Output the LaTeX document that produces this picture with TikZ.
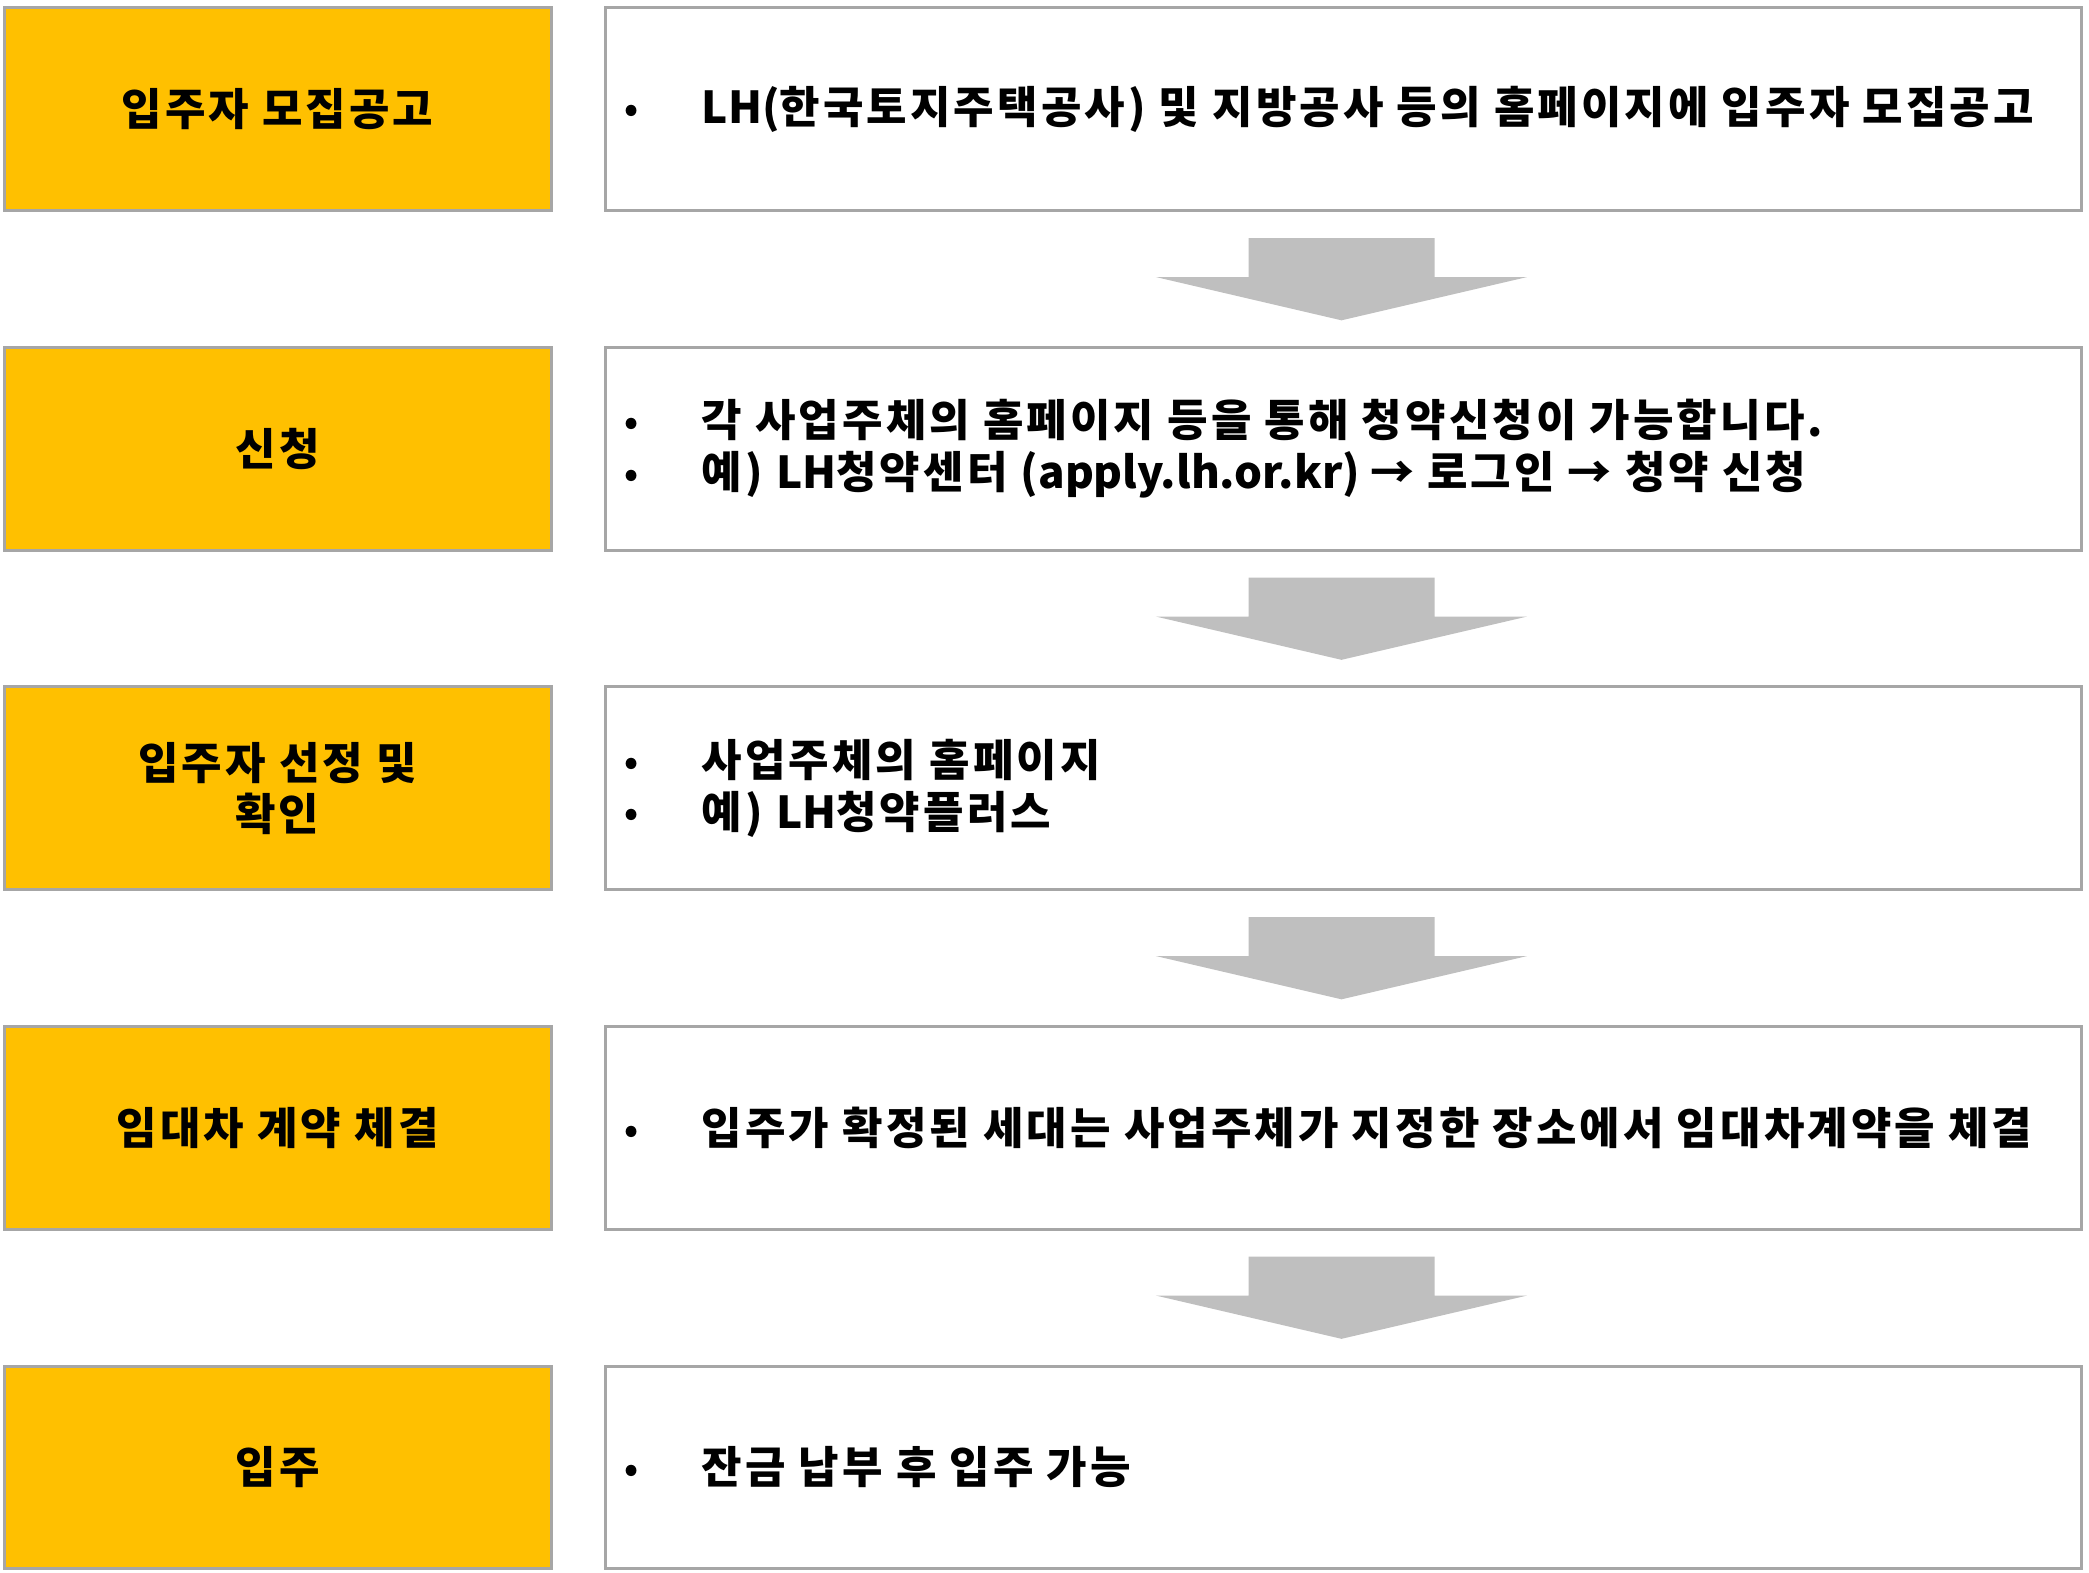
\documentclass[tikz,border=0pt]{standalone}
\usepackage{fontspec}
\usepackage{xcolor}
\setmainfont{Noto Sans CJK KR}[LetterSpace=7]
\newfontfamily\plainlatin{Noto Sans CJK KR}
\definecolor{stepyellow}{HTML}{FFC000}
\definecolor{stepgray}{HTML}{A6A6A6}
\definecolor{arrowgray}{HTML}{BFBFBF}
\newcommand{\itm}{\makebox[0pt]{\raisebox{0.05em}{\scalebox{0.8}{•}}}\hspace{52.5pt}}
\newcommand{\lat}[1]{{\plainlatin #1}}

\begin{document}
\begin{tikzpicture}[x=0.75pt,y=0.75pt,yscale=-1,xscale=1,
  font=\fontsize{33}{38.5}\selectfont\bfseries,
  stagebox/.style={draw=stepgray,line width=2.25pt,fill=stepyellow,minimum width=410.25pt,minimum height=151.9pt,align=center,inner sep=0pt},
  infobox/.style={draw=stepgray,line width=2.25pt,fill=white,minimum width=1107pt,minimum height=151.9pt,inner sep=0pt},
  infotext/.style={anchor=west,align=left,inner sep=0pt},
  flowarrow/.style={fill=arrowgray}]
\useasboundingbox (0,0) rectangle (2089,1572);

%Shape: Rectangle (stages)
\node [stagebox] (s1) at (277.5,109.25) {입주자 모집공고};
\node [stagebox] (s2) at (277.5,448.75) {신청};
\node [stagebox] (s3) at (277.5,788.25) {입주자 선정 및\\확인};
\node [stagebox] (s4) at (277.5,1127.75) {임대차 계약 체결};
\node [stagebox] (s5) at (277.5,1467.25) {입주};

%Shape: Rectangle (details)
\node [infobox] (r1) at (1343,109.25) {};
\node [infobox] (r2) at (1343,448.75) {};
\node [infobox] (r3) at (1343,788.25) {};
\node [infobox] (r4) at (1343,1127.75) {};
\node [infobox] (r5) at (1343,1467.25) {};

% Text Node
\node [infotext] (t1) at ([xshift=21pt]r1.west) {\itm \lat{LH(}한국토지주택공사) 및 지방공사 등의 홈페이지에 입주자 모집공고};
% Text Node
\node [infotext] (t2) at ([xshift=21pt]r2.west) {\itm 각 사업주체의 홈페이지 등을 통해 청약신청이 가능합니다.\\\itm 예) \lat{LH}청약센터 \lat{(apply.lh.or.kr) →} 로그인 \lat{→} 청약 신청};
% Text Node
\node [infotext] (t3) at ([xshift=21pt]r3.west) {\itm 사업주체의 홈페이지\\\itm 예) \lat{LH}청약플러스};
% Text Node
\node [infotext] (t4) at ([xshift=21pt]r4.west) {\itm 입주가 확정된 세대는 사업주체가 지정한 장소에서 임대차계약을 체결};
% Text Node
\node [infotext] (t5) at ([xshift=21pt]r5.west) {\itm 잔금 납부 후 입주 가능};

%Shape: Down Arrow
\foreach \i in {1,...,4}{
  \path (r\i.south) ++(-1.5,0) coordinate (a\i);
  \fill [flowarrow] (a\i) ++(-93,26) -- ++(186,0) -- ++(0,39) -- ++(92.7,0) -- ++(-185.7,43.3) -- ++(-185.7,-43.3) -- ++(92.7,0) -- cycle;
}

\end{tikzpicture}
\end{document}
